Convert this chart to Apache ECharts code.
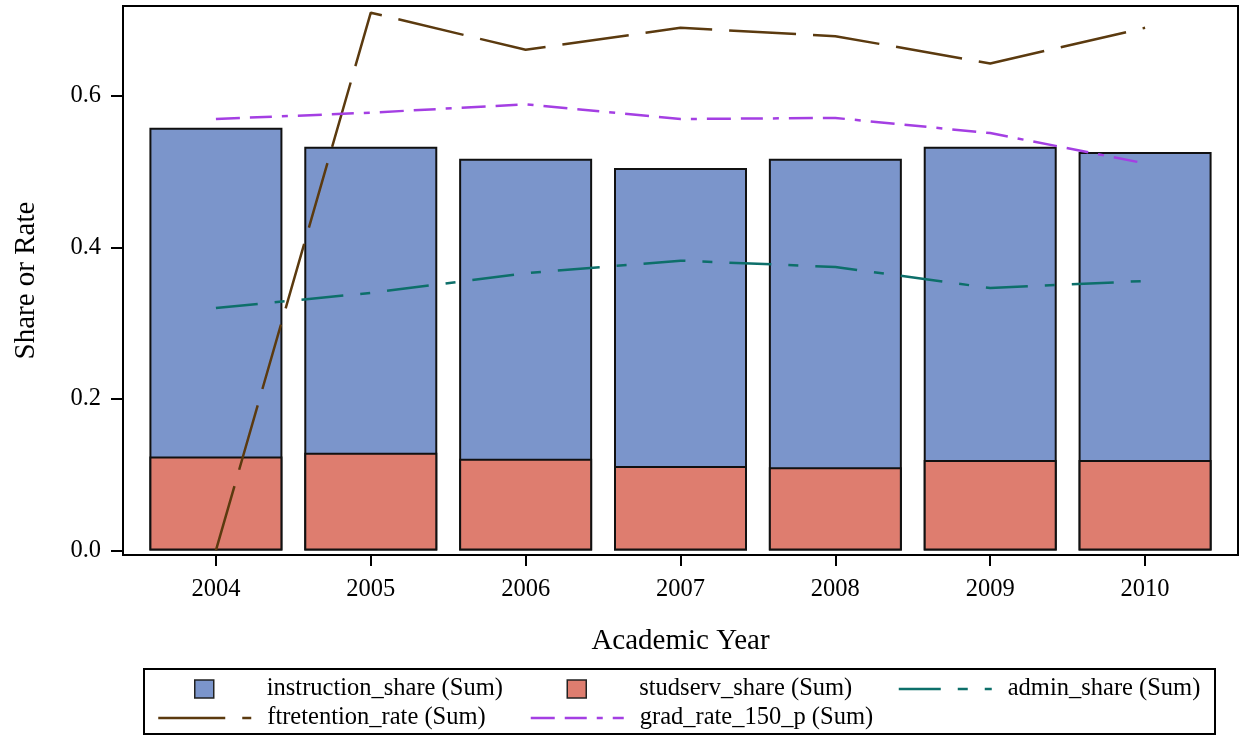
<!DOCTYPE html>
<html><head><meta charset="utf-8">
<script src="https://cdn.jsdelivr.net/npm/echarts@6/dist/echarts.min.js"></script>
<style>html,body{margin:0;padding:0;background:#fff}#c{width:1247px;height:742px}</style>
</head><body><div id="c"></div>
<script>
const years = ['2004','2005','2006','2007','2008','2009','2010'];
const instructionShare = [0.558, 0.533, 0.517, 0.505, 0.517, 0.533, 0.526];
const studservShare = [0.124, 0.129, 0.121, 0.1115, 0.110, 0.1195, 0.1195];
const adminShare = [0.320, 0.340, 0.366, 0.3826, 0.3743, 0.3465, 0.3558];
const ftretentionRate = [0.0, 0.710, 0.661, 0.690, 0.679, 0.643, 0.690];
const gradRate150 = [0.5696, 0.578, 0.589, 0.5696, 0.571, 0.551, 0.511];
const yTicks = [0, 0.2, 0.4, 0.6];
const seriesNames = ['instruction_share (Sum)', 'studserv_share (Sum)', 'admin_share (Sum)', 'ftretention_rate (Sum)', 'grad_rate_150_p (Sum)'];

const FONT = "'Liberation Serif', 'Times New Roman', serif";
const xNum = years.map(Number);
const pairs = arr => arr.map((v, i) => [xNum[i], v]);

const chart = echarts.init(document.getElementById('c'), null, {renderer: 'canvas'});

const legendText = {fontFamily: FONT, fontSize: 24.5, color: '#000', lineHeight: 28};
function sqLegend(name, cx, top) {
  return {data: [{name: name, icon: 'rect'}], icon: 'rect', left: cx - 9.5, top: top, padding: 0, itemWidth: 19, itemHeight: 18,
    selectedMode: false, itemStyle: {borderWidth: 1.5, borderColor: '#222'},
    textStyle: Object.assign({}, legendText, {padding: [0, 0, 0, 48]})};
}
function lnLegend(name, cx, top) {
  return {data: [name], left: cx - 46.5, top: top, padding: 0, itemWidth: 93, itemHeight: 18,
    selectedMode: false, itemStyle: {color: 'rgba(0,0,0,0)', borderWidth: 0},
    lineStyle: {width: 2.5},
    textStyle: Object.assign({}, legendText, {padding: [0, 0, 0, 11]})};
}

chart.setOption({
  backgroundColor: '#fff',
  animation: false,
  textStyle: {fontFamily: FONT},
  grid: {left: 123, right: 9, top: 6, bottom: 187, show: true, borderColor: '#000', borderWidth: 2, backgroundColor: 'transparent'},
  xAxis: {
    type: 'value', min: 2003.4, max: 2010.6,
    name: 'Academic Year', nameLocation: 'middle', nameGap: 72,
    nameTextStyle: {fontFamily: FONT, fontSize: 29, color: '#000'},
    axisLine: {onZero: false, lineStyle: {color: '#000', width: 2}},
    axisTick: {customValues: xNum, length: 11, lineStyle: {color: '#000', width: 2}},
    axisLabel: {customValues: xNum, margin: 22, fontFamily: FONT, fontSize: 24.5, color: '#000',
      formatter: v => String(v)},
    splitLine: {show: false}
  },
  yAxis: {
    type: 'value', min: -0.006, max: 0.7188,
    name: 'Share or Rate', nameLocation: 'middle', nameGap: 82, nameRotate: 90,
    nameTextStyle: {fontFamily: FONT, fontSize: 29, color: '#000'},
    axisLine: {show: true, lineStyle: {color: '#000', width: 2}},
    axisTick: {show: true, customValues: yTicks, length: 12, lineStyle: {color: '#000', width: 2}},
    axisLabel: {customValues: yTicks, margin: 22, fontFamily: FONT, fontSize: 24.5, color: '#000',
      formatter: v => v.toFixed(1)},
    splitLine: {show: false}
  },
  legend: [
    sqLegend(seriesNames[0], 203.5, 675),
    sqLegend(seriesNames[1], 576, 675),
    lnLegend(seriesNames[2], 944, 675),
    lnLegend(seriesNames[3], 203.5, 704),
    lnLegend(seriesNames[4], 576, 704)
  ],
  graphic: [{type: 'rect', shape: {x: 144, y: 669, width: 1071, height: 65},
    style: {fill: 'none', stroke: '#000', lineWidth: 2}, silent: true}],
  series: [
    {name: seriesNames[0], type: 'bar', data: pairs(instructionShare), barWidth: 133, barGap: '-100%',
      itemStyle: {color: '#7B95CB', borderColor: '#111', borderWidth: 2}, z: 2},
    {name: seriesNames[1], type: 'bar', data: pairs(studservShare), barWidth: 133, barGap: '-100%',
      itemStyle: {color: '#DE7D6F', borderColor: '#111', borderWidth: 2}, z: 3},
    {name: seriesNames[2], type: 'line', data: pairs(adminShare), symbol: 'none', z: 5,
      lineStyle: {color: '#0D6F6A', width: 2.5, type: [42, 17, 10, 17]}, itemStyle: {color: '#0D6F6A'}},
    {name: seriesNames[3], type: 'line', data: pairs(ftretentionRate), symbol: 'none', z: 5,
      lineStyle: {color: '#5B3A0F', width: 2.5, type: [67, 17]}, itemStyle: {color: '#5B3A0F'}},
    {name: seriesNames[4], type: 'line', data: pairs(gradRate150), symbol: 'none', z: 5,
      lineStyle: {color: '#A43FE3', width: 2.5, type: [24, 10, 22, 10, 6, 10]}, itemStyle: {color: '#A43FE3'}}
  ]
});
</script></body></html>
